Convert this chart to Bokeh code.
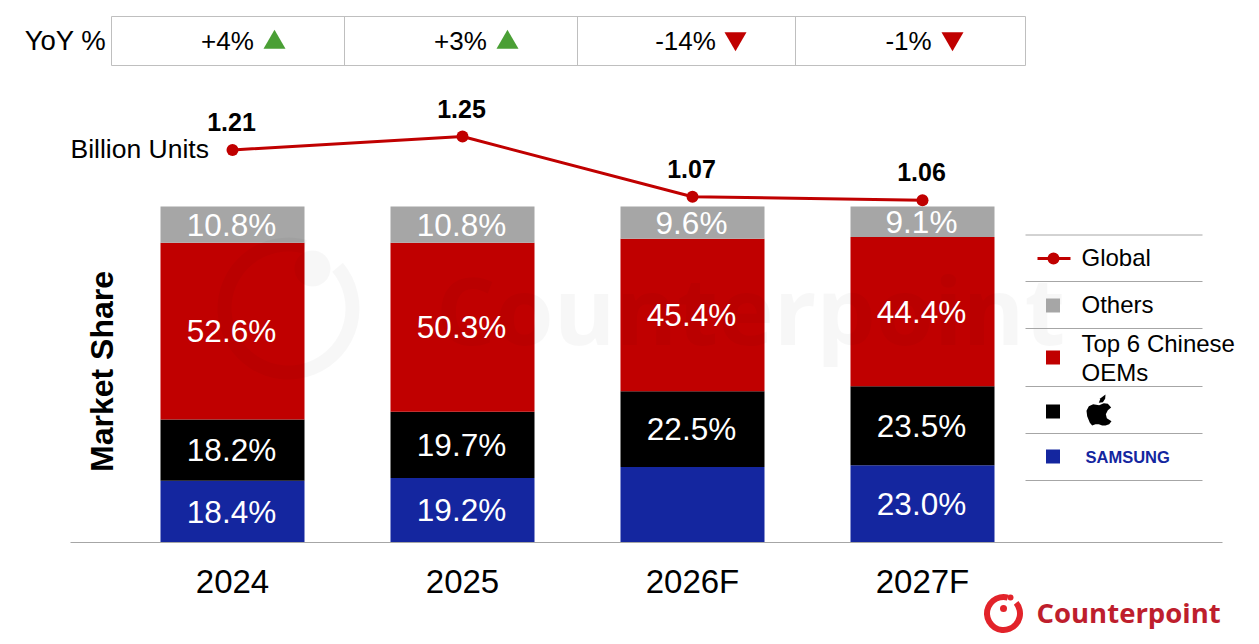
import numpy as np
from bokeh.plotting import figure
from bokeh.models import ColumnDataSource, FixedTicker, Range1d
from bokeh.core.properties import value
from bokeh.embed import file_html
from bokeh.resources import INLINE

# ---------- data ----------
categories = ["2024", "2025", "2026F", "2027F"]
samsung = [18.4, 19.2, 22.5, 23.0]
apple = [18.2, 19.7, 22.5, 23.5]
chinese = [52.6, 50.3, 45.4, 44.4]
others = [10.8, 10.8, 9.6, 9.1]
samsung_labels = ["18.4%", "19.2%", "", "23.0%"]
apple_labels = ["18.2%", "19.7%", "22.5%", "23.5%"]
chinese_labels = ["52.6%", "50.3%", "45.4%", "44.4%"]
others_labels = ["10.8%", "10.8%", "9.6%", "9.1%"]
global_units = [1.21, 1.25, 1.07, 1.06]
global_labels = ["1.21", "1.25", "1.07", "1.06"]
yoy_labels = ["+4%", "+3%", "-14%", "-1%"]
yoy_up = [True, True, False, False]

# ---------- colours / fonts ----------
RED, GREY, BLACK, BLUE = "#C00000", "#A6A6A6", "#000000", "#14269F"
GREEN = "#4A9F35"
RULE = "#BFBFBF"
ARIAL = value("Liberation Sans")
W, H = 1243, 636

# picture-pixel helpers for the furniture around the chart
def X(px):
    return (px - 232) / 230
def Y(py):
    return (542 - py) / 3.36

p = figure(width=W, height=H, output_backend="svg", toolbar_location=None,
           x_range=Range1d(X(0), X(W)), y_range=Range1d(Y(H), Y(0)),
           min_border=0, min_border_left=0, min_border_right=0,
           min_border_top=0, min_border_bottom=0, outline_line_color=None,
           background_fill_color="white", border_fill_color="white")
p.extra_y_ranges = {"units": Range1d(1.25 - (H - 136) / 335, 1.25 + 136 / 335)}
p.grid.visible = False
p.yaxis.visible = False

ax = p.xaxis[0]
ax.fixed_location = 0
ax.ticker = FixedTicker(ticks=list(range(len(categories))))
ax.major_label_overrides = {i: c for i, c in enumerate(categories)}
ax.bounds = (X(70), X(1222))
ax.axis_line_color = GREY
ax.axis_line_width = 1
ax.major_tick_line_color = None
ax.minor_tick_line_color = None
ax.major_label_text_font = "Liberation Sans"
ax.major_label_text_font_size = "33px"
ax.major_label_text_color = "#000000"
ax.major_label_standoff = 14

# ---------- stacked bars ----------
xs = list(range(len(categories)))
src = ColumnDataSource(dict(x=xs, samsung=samsung, apple=apple, chinese=chinese, others=others))
p.vbar_stack(["samsung", "apple", "chinese", "others"], x="x", width=144 / 230,
             color=[BLUE, BLACK, RED, GREY], source=src, line_width=0)
p.segment(X(116), 0, X(1037), 0, line_color="#8C8C8C", line_width=1)

# ---------- watermark ----------
INK = "#000000"
p.annular_wedge(X(288), Y(308), inner_radius=57, outer_radius=71, inner_radius_units="screen",
                outer_radius_units="screen", start_angle=np.radians(75), end_angle=np.radians(400),
                fill_color=INK, fill_alpha=0.03, line_width=0)
p.scatter([X(312)], [Y(268)], size=36, fill_color=INK, fill_alpha=0.03, line_width=0)
p.text([X(750)], [Y(308)], text=["Counterpoint"], text_font=value("Open Sans"), text_font_style="bold",
       text_font_size="94px", text_color=INK, text_alpha=0.03, text_align="center", text_baseline="middle")

# ---------- bar labels ----------
stack = np.cumsum([samsung, apple, chinese, others], axis=0)
base = np.vstack([np.zeros(len(xs)), stack[:-1]])
for i, labels in enumerate([samsung_labels, apple_labels, chinese_labels, others_labels]):
    mid = (base[i] + stack[i]) / 2
    p.text(xs, list(mid), text=labels, text_font=ARIAL, text_font_size="31.5px", text_color="white",
           text_align="center", text_baseline="middle", x_offset=-1)

# ---------- global line ----------
p.line(xs, global_units, y_range_name="units", line_color=RED, line_width=3)
p.scatter(xs, global_units, y_range_name="units", size=12, fill_color=RED, line_color=RED, line_width=0)
p.text(xs, global_units, y_range_name="units", text=global_labels, text_font=ARIAL, text_font_style="bold",
       text_font_size="25px", text_color="black", text_align="center", text_baseline="middle",
       y_offset=-28, x_offset=-1)

def label(px, py, s, size, align="center", **kw):
    p.text([X(px)], [Y(py)], text=[s], text_font=kw.pop("font", ARIAL), text_font_size=size,
           text_color=kw.pop("color", "black"), text_align=align, text_baseline="middle", **kw)

label(70, 148, "Billion Units", "26.5px", "left")
label(101, 371, "Market Share", "32px", font=ARIAL, text_font_style="bold", angle=np.pi / 2)

# ---------- YoY table ----------
label(65, 40, "YoY %", "27.5px")
p.quad(left=X(111), right=X(1025), top=Y(16), bottom=Y(65), fill_color=None, line_color=RULE, line_width=1)
p.segment([X(v) for v in (344, 577, 795)], Y(16), [X(v) for v in (344, 577, 795)], Y(65),
          line_color=RULE, line_width=1)
for s, up, tx, mx in zip(yoy_labels, yoy_up, (227, 460, 685, 908), (274, 507, 735, 952)):
    label(tx, 40, s, "26px")
    p.scatter([X(mx)], [Y(42 if up else 38)], marker="triangle" if up else "inverted_triangle", size=22,
              fill_color=GREEN if up else RED, line_width=0)

# ---------- legend ----------
for py in (234.5, 281, 328, 386, 433, 480):
    p.segment(X(1025), Y(py), X(1202), Y(py), line_color=GREY, line_width=1)
p.segment(X(1037), Y(258), X(1070), Y(258), line_color=RED, line_width=3)
p.scatter([X(1053)], [Y(258)], size=12, fill_color=RED, line_width=0)
for py, c in ((305, GREY), (357, RED), (411, BLACK), (456, BLUE)):
    p.scatter([X(1052.5)], [Y(py)], marker="square", size=14, fill_color=c, line_width=0)
label(1081, 257, "Global", "24px", "left")
label(1081, 304, "Others", "24px", "left")
label(1081, 343, "Top 6 Chinese", "24px", "left")
label(1081, 372, "OEMs", "24px", "left")
label(1085, 456, "SAMSUNG", "16.5px", "left", color=BLUE, text_font_style="bold")

apple_body = [(236, 539), (250, 533), (262, 535), (272, 546), (262, 554), (256, 566), (259, 578),
              (273, 587), (266, 596), (255, 600), (245, 600), (235, 596), (225, 596), (215, 600),
              (208, 592), (200, 572), (198, 556), (205, 542), (218, 536)]
apple_leaf = [(235, 532), (240, 518), (255, 507), (254, 520), (247, 530)]
for shape in (apple_body, apple_leaf):
    p.patch([X(1020 + a / 3) for a, _ in shape], [Y(225 + b / 3) for _, b in shape],
            fill_color="black", line_width=0)

# ---------- logo ----------
LOGO = "#BE1E2D"
p.annular_wedge(X(1003), Y(613), inner_radius=13.5, outer_radius=19.5, inner_radius_units="screen",
                outer_radius_units="screen", start_angle=np.radians(75), end_angle=np.radians(400),
                fill_color="#E2232A", line_width=0)
p.scatter([X(1003)], [Y(608)], size=7, fill_color="#E2232A", line_width=0)
p.scatter([X(1010)], [Y(597)], size=6, fill_color="#E2232A", line_width=0)
label(1036, 612, "Counterpoint", "27.5px", "left", font=value("Open Sans"), color=LOGO, text_font_style="bold")

open("out.html", "w").write(file_html(p, INLINE))
